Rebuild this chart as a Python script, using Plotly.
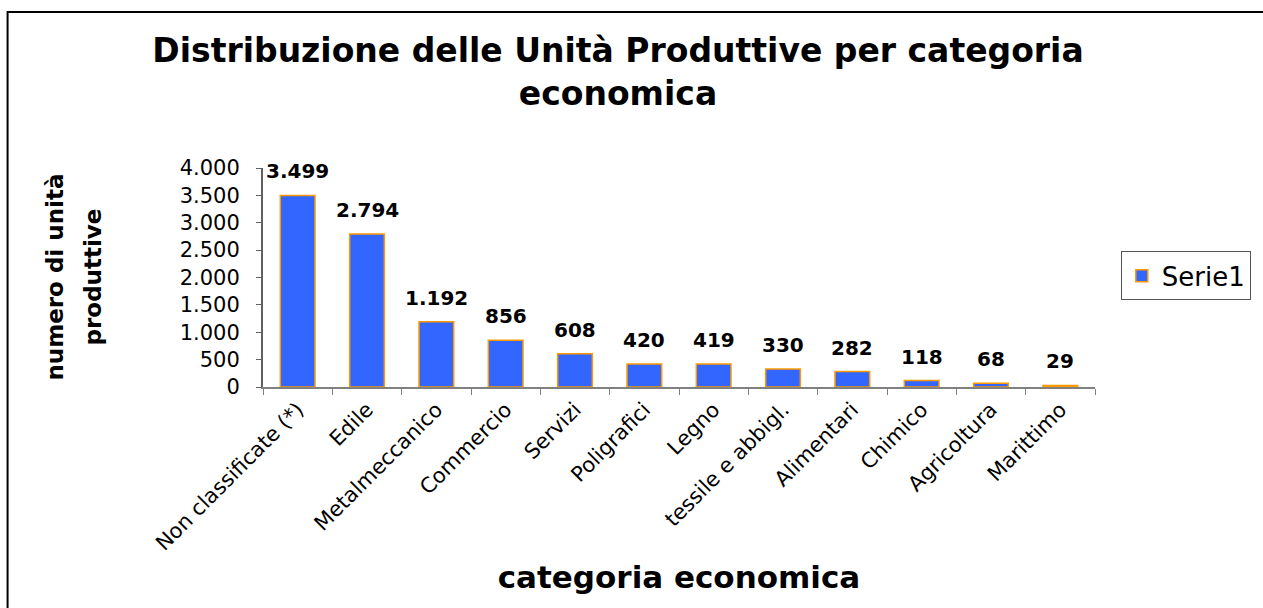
import plotly.graph_objects as go

categories = ["Non classificate (*)", "Edile", "Metalmeccanico", "Commercio", "Servizi",
              "Poligrafici", "Legno", "tessile e abbigl.", "Alimentari", "Chimico",
              "Agricoltura", "Marittimo"]
values = [3499, 2794, 1192, 856, 608, 420, 419, 330, 282, 118, 68, 29]
y_ticks = [0, 500, 1000, 1500, 2000, 2500, 3000, 3500, 4000]
y_title_lines = ["numero di unità", "produttive"]

FONT = "DejaVu Sans"

fig = go.Figure()
fig.add_trace(go.Bar(
    x=categories, y=values, name="Serie1",
    marker=dict(color="#3366FF", line=dict(color="#FF9900", width=1.5)),
    showlegend=True,
))

for c, v in zip(categories, values):
    fig.add_annotation(x=c, y=v, xref="x", yref="y", text=f"{v:,}".replace(",", "."),
                       showarrow=False, yanchor="bottom", yshift=10,
                       font=dict(family=FONT, size=20, color="black", weight="bold"))

for i, line in enumerate(y_title_lines):
    fig.add_annotation(xref="paper", yref="paper", x=(55 + 38 * i - 263) / 834, y=0.502,
                       xanchor="center", yanchor="middle",
                       text=f"<b>{line}</b>", textangle=-90,
                       showarrow=False, font=dict(family=FONT, size=23, color="black"))

fig.add_shape(type="rect", xref="paper", yref="paper", x0=-0.307, x1=1.4, y0=-1.5, y1=1.712,
              line=dict(color="black", width=2), fillcolor="rgba(0,0,0,0)")

fig.update_layout(
    width=1263, height=608,
    margin=dict(l=263, r=166, t=168, b=221),
    paper_bgcolor="white", plot_bgcolor="white",
    separators=",.",
    title=dict(text="<b>Distribuzione delle Unità Produttive per categoria<br>economica</b>",
               x=618/1263, xanchor="center", xref="container",
               y=1-62/608, yanchor="middle", yref="container",
               font=dict(family=FONT, size=33, color="black")),
    bargap=0.5,
    xaxis=dict(type="category", tickson="boundaries", ticks="outside", ticklen=6,
               tickcolor="#808080", showline=True, linecolor="#808080", linewidth=2,
               tickangle=-45, tickfont=dict(family=FONT, size=21, color="black"),
               title=dict(text="<b>categoria economica</b>", standoff=12,
                          font=dict(family=FONT, size=31, color="black")),
               showgrid=False),
    yaxis=dict(range=[0, 4000], tickvals=y_ticks, tickformat=",d", ticks="outside", ticklen=5,
               tickcolor="#606060", showline=True, linecolor="#606060", linewidth=2,
               ticklabelstandoff=12,
               tickfont=dict(family=FONT, size=21, color="black"), showgrid=False,
               zeroline=False),
    legend=dict(x=1.031, y=0.507, xanchor="left", yanchor="middle",
                bordercolor="#555555", borderwidth=1,
                font=dict(family=FONT, size=26, color="black")),
)

fig.write_html("out.html")
